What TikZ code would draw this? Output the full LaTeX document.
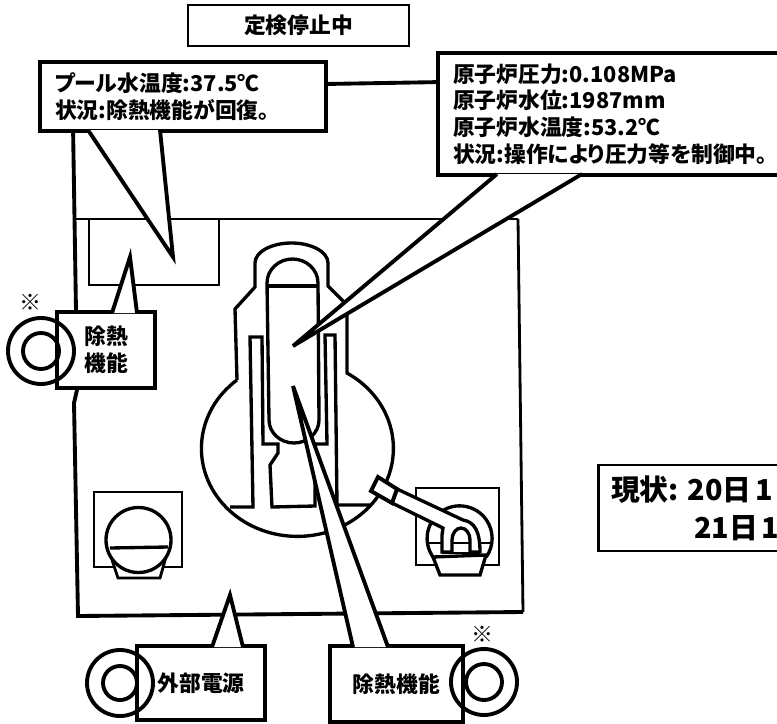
\documentclass[tikz,border=0pt]{standalone}
\usepackage{fontspec}
\setmainfont{Noto Sans CJK JP}[RawFeature=+palt]
\tikzset{
  heavy/.style={line width=2.2pt},
  plantline/.style={line width=1.9pt},
  notebox/.style={draw, heavy, fill=white, outer sep=0pt, inner xsep=0.3cm, inner ysep=0pt, align=left, font=\bfseries\fontsize{12.4}{15.2}\selectfont},
  notetail/.style={draw, heavy, fill=white, line join=miter},
  kome/.style={font=\bfseries\fontsize{12.5}{13}\selectfont, inner sep=0pt},
}
\begin{document}
\begin{tikzpicture}[x=0.02cm, y=-0.02cm]
\useasboundingbox (0,0) rectangle (777,723);
\clip (0,0) rectangle (777,723);
% building
\draw[ultra thick] (73,219) -- (518,219);
\draw[heavy] (73,125) -- (76,311) -- (77,390) -- (74,403) -- (78,616) -- (523,612);
\draw[ultra thick] (523,612) -- (518,219);
% pool
\draw[ultra thick] (89,219) -- (89,285) -- (219,285) -- (219,219);
% containment
\draw[plantline] (237,380) -- (235,309) -- (255,287) -- (255,263) arc[start angle=180, end angle=360, x radius=36.5, y radius=20]
  -- (328,286) -- (347,305) -- (347,373);
\draw[plantline] (237,380) arc[start angle=231, end angle=-59.5, x radius=96, y radius=88];
% vessel
\draw[plantline] (267,283) arc[start angle=180, end angle=360, x radius=25.5, y radius=24]
  -- (319,420) arc[start angle=0, end angle=180, x radius=25, y radius=23] -- cycle;
\draw[plantline] (267,286) -- (318,286);
% pedestal
\draw[plantline] (230,507) -- (253,507) -- (250,337) -- (262,337) -- (263,444) -- (278,444) -- (278,453)
  -- (270,465) -- (272,507) -- (315,506) -- (315,444) -- (327,444) -- (325,335) -- (335,335) -- (337,505) -- (370,505);
% left pump
\draw[ultra thick] (94,492) rectangle (182,567);
\draw[ultra thick, fill=white] (112,560) -- (118,578) -- (160,578) -- (166,557);
\draw[plantline, fill=white] (138.5,540) circle (32.5);
\draw[plantline] (110,548) -- (168,547);
% right pump
\draw[ultra thick] (416,488) rectangle (499,565);
\draw[plantline, fill=white] (433,557) -- (440,575) -- (480,575) -- (486,555) -- cycle;
\draw[plantline] (433,557) arc[start angle=145, end angle=395, radius=32.5];
\draw[ultra thick] (428,543) -- (442,543);
\draw[ultra thick] (480,543) -- (491,543);
\draw[plantline, fill=white] (397,489) -- (463,520) .. controls (475,522) and (480,532) .. (480,552)
  -- (470,552) -- (470,540) arc[start angle=0, end angle=-180, x radius=9, y radius=12]
  -- (452,552) -- (442,552) -- (442,535) -- (443,528) -- (392,503) -- cycle;
\draw[ultra thick] (452,543) -- (470,543);
\draw[ultra thick] (442,553) -- (480,553);
\draw[heavy, fill=white] (378,477) -- (397,489) -- (392,503) -- (371,491) -- cycle;
% callouts
\node (poolnote) [notebox, minimum width=5.72cm, minimum height=1.38cm, text width=5.12cm] at (183,96.5) {\raisebox{-0.05cm}{プール水温度:37.5℃}\\\raisebox{-0.05cm}{状況:除熱機能が回復。}};
\node (rpvnote) [notebox, minimum width=7.24cm, minimum height=2.44cm, text width=6.64cm] at (619,114) {原子炉圧力:0.108MPa\\原子炉水位:1987mm\\原子炉水温度:53.2℃\\状況:操作により圧力等を制御中。};
\draw[heavy] (poolnote.5) -- (rpvnote.170.6);
\node (stopbox) [notebox, ultra thick, minimum width=4.42cm, minimum height=0.82cm, inner xsep=0pt] at (298.5,25.5) {定検停止中};
\draw[notetail] (88,130) -- (173,257) -- (160,130);
\draw[notetail] (497,174) -- (293,346) -- (582,174);
\node (heatA) [notebox, minimum width=1.96cm, minimum height=1.52cm, inner xsep=0pt] at (106,350) {除熱\\機能};
\draw[notetail] (112,313) -- (130,257) -- (137,313);
\node (power) [notebox, minimum width=2.56cm, minimum height=1.48cm, inner xsep=0pt] at (201,683) {外部電源};
\draw[notetail] (212,647) -- (230,595) -- (243,647);
\node (heatB) [notebox, minimum width=2.66cm, minimum height=1.52cm, inner xsep=0pt] at (396.5,684) {除熱機能};
\draw[notetail] (353,647) -- (293,386) -- (388,647);
\node (state) [notebox, ultra thick, minimum width=4.06cm, minimum height=1.72cm, text width=3.56cm, inner xsep=0.25cm, font=\bfseries\fontsize{16.4}{21.5}\selectfont] at (700,508) {現状:\hspace{0.18cm}20日\hspace{0.08cm}1\\\hspace*{1.66cm}21日\hspace{0.08cm}1};
% power circles
\foreach \cx/\cy/\ri in {41/351/18, 120/683/17, 484/682/18}
  \draw[heavy] (\cx,\cy) circle (33) (\cx,\cy) circle (\ri);
\node (komeA) [kome] at (30,302) {※};
\node (komeB) [kome] at (482,634) {※};
\end{tikzpicture}
\end{document}
